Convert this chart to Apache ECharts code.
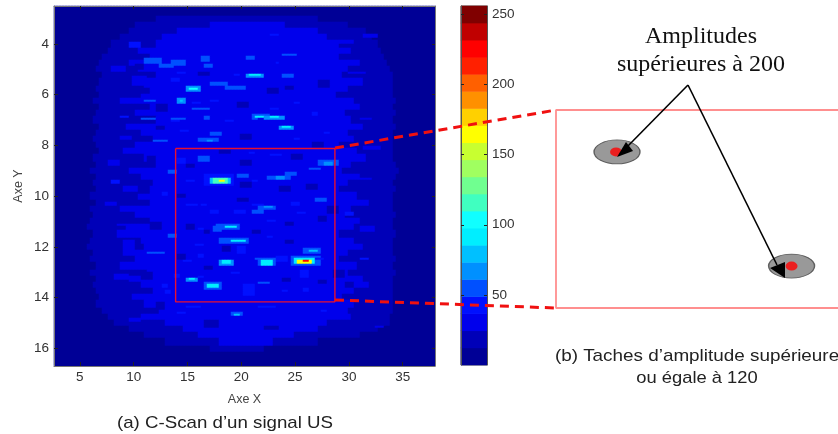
<!DOCTYPE html>
<html><head><meta charset="utf-8">
<style>html,body{margin:0;padding:0;background:#fff}#c{width:838px;height:434px}canvas{filter:blur(0.6px)}</style>
<script src="https://cdn.jsdelivr.net/npm/echarts@6/dist/echarts.min.js"></script>
</head><body><div id="c"></div>
<script>
const xTicks=[5,10,15,20,25,30,35];
const yTicks=[4,6,8,10,12,14,16];
const barTicks=[50,100,150,200,250];
const bandEdges=[0,12,24,36,48,61,73,85,97,110,122,134,146,158,170,183,195,207,219,231,243,256];
const bandColors=['#000096','#0000b8','#0000ec','#0010ff','#0050ff','#0090ff','#00c0ff','#00eeff','#10ffff','#40ffc0','#70ff90','#a0ff60','#c8ff30','#ffff00','#ffd000','#ff9000','#ff6000','#ff2000','#ff0000','#c00000','#800000'];
// background zones read per row, y = 3 .. 16 by 0.25
const midLeft=[12,10,9.5,8.8,8,7.5,7,6.8,6.6,7,6.8,6.4,6.7,6.2,6.9,6.5,6.3,6.7,6.4,6.1,6.4,6.7,6.2,6.6,6,6.4,6.2,6.6,6,6.4,5.9,6.3,6,5.7,6.1,5.9,5.7,6.2,5.9,6.4,6,6.6,6.2,6.4,6.8,6.4,7,7.5,8.2,9.5,11,13,17];
const midRight=[27,30,31.5,32.2,32.6,33,33.3,33.6,33.8,34,34.2,34,34.1,34.4,34.2,34.5,34.2,34.4,34.2,34,34.2,34,34.2,34.4,34.6,34.3,34.2,34.4,34.2,34,34.2,34.3,34.1,34.2,34.4,34.2,34,34.2,34.3,34.2,34.4,34.2,34,34.2,34,34.2,34,33.9,33.7,32.8,31,27,22];
const innerLeft=[20,17,14,12.5,12,10.5,11.5,9.5,10.5,12,9.8,11,10.6,8.8,11.5,10,12,9.4,10.8,11.8,10,8.9,11,12.2,9.5,10.6,11.8,9,10.4,11.6,8.6,10.2,11.4,9.2,8.4,10.6,11,9,10.2,8.8,11.2,9.6,10.8,11.8,9.8,11,12.4,10.6,13,14.5,16,18,20];
const innerRight=[20,24,27,28,29,30.2,29,31,30,29.4,31.2,30,28.8,30.4,31,29.6,30.2,31.4,29.8,30.6,29,30.8,31.6,30.2,29.4,31,30,29.2,30.8,31.8,30.2,29.6,31,30.4,29,30.6,31.4,30,29.2,30.8,30,31.2,29.6,30.4,29.4,30.6,29.8,30.2,28,27,25,23,20];
// amplitude patches [x0,x1,y0,y1,amp], later entries on top
const dimPatches=[[19.9,21,9.45,9.7,14],[19.7,20.7,10.1,10.25,14],[14,14.8,9.95,10.1,14],[23.6,24.5,9.6,9.8,14],[18.2,19,12,12.2,14],[16.4,17.2,11.3,11.5,14],[24,25,11,11.2,14],[27,28,10.8,11,14],[14.9,15.6,11.1,11.3,14],[21.1,21.9,11.35,11.5,14],[24,24.8,11.75,11.9,14],[14,14.8,12.3,12.5,14],[16.5,17.3,12.75,12.95,14],[23.7,24.7,13.2,13.4,14],[27,27.9,13.3,13.5,14],[18,19,8.2,8.35,14],[24.5,25.6,8.35,8.55,14],[19.9,21,8.6,8.8,14],[14.9,15.8,8.7,8.9,14],[26.1,27,9.55,9.75,14],[10.2,11,4.8,5,14],[10.7,11.6,5.7,5.95,14],[16,17,5.1,5.3,14],[22.4,23.5,5.75,5.95,14],[12,13,7.2,7.4,14],[19.5,20.6,6.3,6.5,14],[24,25,5.65,5.85,14],[20,21,7.55,7.75,14],[11.2,12.2,8.4,8.7,14],[10.4,11.4,9.6,9.9,14],[11.6,12.6,11,11.3,14],[10.6,11.8,13,13.3,14],[12.2,13,14.2,14.5,14],[12,13.2,6.4,6.7,14],[28,29.2,10.4,10.7,14],[28.4,29.6,12.9,13.2,14],[27.2,28.2,5.4,5.7,14],[26.6,27.8,7.9,8.1,14],[16.6,17.8,14.9,15.2,14],[22.2,23.6,15.1,15.3,14],
[29.9,31.7,5.08,5.22,32],[31,32.2,6.9,7,28],[31.2,32.6,3.6,3.74,28],[29.2,30.4,3.85,4,32],[25.5,26.6,3.9,4.2,32],[26.5,27.8,3.6,3.8,30],[30.5,32.2,9.3,9.4,30],[32.4,33.2,15.1,15.2,28],[9.8,11.2,5.3,5.6,30],[9.5,10.8,14.8,15,30],[8.4,9.6,11.1,11.2,30],[9,10,11.7,12.2,30],[10,11.4,12.4,12.6,30],[8.2,9.5,13.1,13.3,30],[11,12.3,10.5,10.7,30],[8,9.2,4.9,5.1,30],[7.6,8.8,8.6,8.8,30],[8.6,9.8,7.6,7.8,30],[7.2,8.4,10.2,10.4,30],[31,32.4,11.2,11.4,30],[30.6,32,13.4,13.6,30],[31.4,33,8,8.2,30]];
const upperPatches=[[11,12.7,4.55,4.75,55],[12.3,13.8,4.75,4.92,50],[13.6,14.8,4.6,4.85,48],[16.2,17.1,4.5,4.72,52],[16.4,17.4,4.78,4.95,50],[20.4,21.2,4.45,4.62,50],[23.9,25.1,4.38,4.5,55],[20.4,22.1,5.17,5.34,65],[20.8,21.8,5.21,5.3,90],[23.7,24.9,5.2,5.32,50],[14.9,16.3,5.66,5.86,65],[15.2,15.9,5.7,5.8,105],[17.2,18.8,5.47,5.63,50],[18.6,20.3,5.62,5.78,55],[13.5,14.3,5.34,5.48,45],[13.9,14.9,5.12,5.2,42],[13.9,15,6.15,6.4,62],[14.2,14.7,6.22,6.32,80],[11,12,6.2,6.28,48],[15.5,17.1,6.5,6.6,52],[16.4,17.2,6.86,7,48],[13.4,15,6.88,6.98,48],[10.6,12,6.92,7.02,52],[13.4,14.2,7,7.1,45],[21,22.6,6.75,6.95,58],[21.4,22.3,6.8,6.88,90],[22.2,24,6.84,7,65],[22.6,23.6,6.87,6.95,85],[20.9,21.6,6.88,7.02,50],[23.6,25,7.2,7.36,65],[23.9,24.7,7.23,7.31,85],[16,18,7.7,7.88,58],[16.7,17.5,7.75,7.83,68],[14.4,15.1,7.36,7.48,45],[17,18.2,7.45,7.6,48],[11.7,13.1,7.8,7.9,50],[9.6,10.7,7.76,7.82,45],[15.5,16.2,6.3,6.38,40],[17.2,18,6.2,6.26,40],[18.4,19.2,7.02,7.08,45],[22.6,23.4,6.54,6.6,42],[19.2,20,5.2,5.28,45],[24.8,25.4,6.28,6.38,45],[24.8,25.4,7.74,7.82,45],[23.1,23.4,4.72,4.82,42],[9.5,10.8,3.95,4.12,38],[8.6,9.6,6.8,6.9,42],[22.7,23.4,3.62,3.72,40],[27.6,28.2,7.5,7.58,40],[26.5,27.1,6.68,6.82,42]];
const lowerPatches=[[7.9,8.7,9.38,9.5,42],[16.6,19.4,9.15,9.6,45],[17,19,9.25,9.55,80],[17.5,18.9,9.3,9.5,110],[17.9,18.6,9.36,9.48,165],[24.6,27.3,12.4,12.75,60],[25,26.9,12.45,12.7,90],[25.3,26.6,12.5,12.65,165],[25.7,26.3,12.54,12.62,225],[21.5,23.3,12.45,12.78,60],[21.8,23,12.5,12.72,90],[23.3,24.3,12.36,12.62,45],[18,19.4,12.48,12.72,65],[18.3,19.1,12.55,12.68,90],[25.7,27.5,12.08,12.28,60],[26.2,27,12.12,12.22,75],[16.5,18.2,13.42,13.68,60],[16.9,17.8,13.48,13.6,85],[14.8,16,13.2,13.36,65],[15.1,15.8,13.25,13.32,90],[17.8,20.7,11.65,11.9,48],[19,20.4,11.7,11.82,85],[17.6,19.8,11.1,11.3,60],[18.5,19.5,11.16,11.26,90],[17.5,18.2,11.2,11.45,48],[21.5,23.2,10.35,10.55,50],[22,23,10.38,10.5,62],[22.3,24.5,9.2,9.4,50],[23.1,24.2,9.24,9.36,62],[27.2,29.2,8.6,8.85,55],[27.6,28.5,8.66,8.8,65],[26.3,27.3,8.88,9,52],[24.1,25.2,9.04,9.18,48],[15.9,17,8.42,8.65,48],[14,15,8.5,8.72,45],[13.2,14,8.95,9.1,55],[14.8,15.6,9.38,9.48,45],[19.6,20.3,11.97,12.28,45],[20.3,21.3,13.5,13.95,45],[21.6,22.8,13.38,13.5,50],[25.5,26.3,12.95,13.2,45],[25.6,26.2,13.62,13.8,45],[26.8,27.9,10.1,10.22,48],[24.5,25.5,10.2,10.4,42],[21,22.1,10.58,10.7,50],[19.2,20.4,10.55,10.72,45],[21,22,10.32,10.42,42],[14.9,15.9,10.3,10.4,42],[16.2,16.9,10.3,10.4,42],[17.1,17.9,10.58,10.7,42],[15.9,16.6,11.22,11.33,45],[15.8,16.5,11.85,11.95,42],[16,16.6,12.3,12.42,42],[14.6,15.5,12.55,12.62,40],[15.9,16.6,13.12,13.2,38],[21.4,22.2,12.42,12.52,50],[22.4,23.3,10.97,11.05,42],[19.6,20.6,9.12,9.28,48],[20.9,21.5,9.36,9.42,42],[25.3,26,10.6,10.7,42],[22.8,23.7,8.36,8.44,40],[20.6,21.2,8.26,8.34,40],[13.2,13.9,11.52,11.62,48],[19,20,12.97,13.05,40],[22.3,23,11.55,11.62,40],[26.8,27.6,12.44,12.54,45],[23.7,24.3,13.74,13.8,42],[29.6,30.6,10.6,10.76,42],[30.9,31.8,12.46,12.55,38],[19,20.2,14.58,14.75,60],[19.3,19.9,14.63,14.7,75],[21.6,23.2,14.3,14.42,40],[27.4,28.1,14.5,14.6,38],[22.4,23.1,14.75,14.82,32],[11.3,12.8,12.17,12.28,50],[14,14.8,14.56,14.66,42],[15,16.3,14.34,14.42,38],[12.5,13.2,13.5,13.6,38],[12.8,13.4,13.7,13.85,38],[13.8,14.2,13.1,13.2,40],[12.6,13.3,9.86,9.96,42]];
const zoneX=[13.9,28.7];
const zoneY=[8.12,14.17];
const spotX=[17.18,26.28];
const spotY=[9.43,12.92];
const coreX=[17.13,26.28];
const coreY=[9.43,12.92];

const X0=2.6,X1=38,Y0=2.5,Y1=16.7;
const nCols=127,nRows=180;
const xCats=[],yCats=[],cells=[];
const patches=[...dimPatches,...upperPatches,...lowerPatches];
for(let c=0;c<nCols;c++)xCats.push(String(c));
for(let r=0;r<nRows;r++)yCats.push(String(r));
for(let r=0;r<nRows;r++){
  const y=Y0+(r+.5)*(Y1-Y0)/nRows;
  const mi=Math.round((y-3)/0.25);
  for(let c=0;c<nCols;c++){
    const x=X0+(c+.5)*(X1-X0)/nCols;
    let v=6;
    if(mi>=0&&mi<midLeft.length){
      if(x>=midLeft[mi]&&x<=midRight[mi])v=18;
      if(x>=innerLeft[mi]&&x<=innerRight[mi])v=30;
    }
    for(const p of patches){if(x>=p[0]&&x<=p[1]&&y>=p[2]&&y<=p[3])v=p[4];}
    cells.push([c,r,v]);
  }
}
const barCats=bandColors.map((_,i)=>String(i));
const barCells=bandColors.map((_,i)=>[0,i,(bandEdges[i]+bandEdges[i+1])/2]);
const pieces=bandColors.map((col,i)=>({gte:bandEdges[i],lt:bandEdges[i+1],color:col}));
const tickTxt={color:'#333',fontFamily:'Liberation Sans',fontSize:13.5};
const frame={show:true,lineStyle:{color:'#777',width:1}};
const tick=(vals,len)=>({show:true,inside:true,length:len,customValues:vals,lineStyle:{color:'#222',width:1}});
const nameTxt={fontFamily:'Liberation Sans',fontSize:12.5,color:'#444'};

const chart=echarts.init(document.getElementById('c'));
chart.setOption({
 animation:false,backgroundColor:'#fff',
 grid:[{left:54,top:6,width:381,height:360},{left:461,top:6,width:26,height:359,show:true,borderColor:'#555',borderWidth:1},{left:556,top:110,width:282,height:198}],
 visualMap:{type:'piecewise',show:false,dimension:2,seriesIndex:[0,1],pieces:pieces},
 xAxis:[
  {gridIndex:0,type:'value',min:X0,max:X1,position:'bottom',z:5,axisLine:frame,axisTick:tick(xTicks,4),splitLine:{show:false},axisLabel:Object.assign({customValues:xTicks,margin:4},tickTxt),name:'Axe X',nameLocation:'middle',nameGap:27,nameTextStyle:nameTxt},
  {gridIndex:0,type:'value',min:X0,max:X1,position:'top',z:5,axisLine:frame,axisTick:tick(xTicks,3),axisLabel:{show:false},splitLine:{show:false}},
  {gridIndex:0,type:'category',data:xCats,show:false},
  {gridIndex:1,type:'category',data:['c'],show:false},
  {gridIndex:2,type:'value',min:zoneX[0]+0.1,max:zoneX[1],show:false}
 ],
 yAxis:[
  {gridIndex:0,type:'value',min:Y0,max:Y1,inverse:true,position:'left',z:5,axisLine:frame,axisTick:tick(yTicks,4),splitLine:{show:false},axisLabel:Object.assign({customValues:yTicks,margin:5},tickTxt),name:'Axe Y',nameLocation:'middle',nameGap:29,nameRotate:90,nameTextStyle:nameTxt},
  {gridIndex:0,type:'value',min:Y0,max:Y1,inverse:true,position:'right',z:5,axisLine:frame,axisTick:tick(yTicks,3),axisLabel:{show:false},splitLine:{show:false}},
  {gridIndex:0,type:'category',data:yCats,inverse:true,show:false},
  {gridIndex:1,type:'category',data:barCats,show:false},
  {gridIndex:1,type:'value',min:0,max:256,position:'right',z:5,axisLine:{show:true,lineStyle:{color:'#555'}},axisTick:tick(barTicks,3),splitLine:{show:false},axisLabel:Object.assign({customValues:barTicks,margin:5},tickTxt)},
  {gridIndex:1,type:'value',min:0,max:256,position:'left',z:5,axisLine:{show:true,lineStyle:{color:'#555'}},axisTick:tick(barTicks,3),axisLabel:{show:false},splitLine:{show:false}},
  {gridIndex:2,type:'value',min:zoneY[0]+0.03,max:zoneY[1]+0.03,inverse:true,show:false}
 ],
 series:[
  {type:'heatmap',xAxisIndex:2,yAxisIndex:2,data:cells,progressive:0,z:2},
  {type:'heatmap',xAxisIndex:3,yAxisIndex:3,data:barCells,progressive:0,z:2},
  {type:'line',xAxisIndex:0,yAxisIndex:0,symbol:'none',z:4,lineStyle:{color:'#e81030',width:1.4},
   data:[[zoneX[0],zoneY[0]],[zoneX[1],zoneY[0]],[zoneX[1],zoneY[1]],[zoneX[0],zoneY[1]],[zoneX[0],zoneY[0]]]},
  {type:'line',xAxisIndex:4,yAxisIndex:6,symbol:'none',z:3,clip:false,lineStyle:{color:'#ff8f8f',width:1.8},
   data:[[zoneX[1],zoneY[0]+0.03],[zoneX[0]+0.1,zoneY[0]+0.03],[zoneX[0]+0.1,zoneY[1]+0.03],[zoneX[1],zoneY[1]+0.03]]},
  {type:'scatter',xAxisIndex:4,yAxisIndex:6,symbol:'circle',symbolSize:[46,24],z:4,itemStyle:{color:'#808080',borderColor:'#444',borderWidth:1},
   data:spotX.map((x,i)=>[x,spotY[i]])},
  {type:'scatter',xAxisIndex:4,yAxisIndex:6,symbol:'circle',symbolSize:[12,9],z:5,itemStyle:{color:'#ff0000'},
   data:coreX.map((x,i)=>[x,coreY[i]])}
 ],
 graphic:[
  {type:'line',z:20,shape:{x1:335,y1:148,x2:556,y2:110},style:{stroke:'#f01010',lineWidth:3,lineDash:[9,6]}},
  {type:'line',z:20,shape:{x1:335,y1:300,x2:556,y2:308},style:{stroke:'#f01010',lineWidth:3,lineDash:[9,6]}},
  {type:'line',z:21,shape:{x1:688,y1:85,x2:624,y2:150},style:{stroke:'#000',lineWidth:1.6}},
  {type:'polygon',z:21,shape:{points:[[617,157],[626,142],[633,151]]},style:{fill:'#000'}},
  {type:'line',z:21,shape:{x1:688,y1:85,x2:777,y2:265},style:{stroke:'#000',lineWidth:1.6}},
  {type:'polygon',z:21,shape:{points:[[785,278],[770,268],[785,262]]},style:{fill:'#000'}},
  {type:'text',z:21,x:701,y:37,style:{text:'Amplitudes',textAlign:'center',textVerticalAlign:'middle',font:'24px "Liberation Serif"',fill:'#111'}},
  {type:'text',z:21,x:701,y:65,style:{text:'supérieures à 200',textAlign:'center',textVerticalAlign:'middle',font:'24px "Liberation Serif"',fill:'#111'}},
  {type:'text',z:21,x:225,y:423,scaleX:1.1,style:{text:'(a) C-Scan d’un signal US',textAlign:'center',textVerticalAlign:'middle',font:'17px "Liberation Sans"',fill:'#222'}},
  {type:'text',z:21,x:697,y:356,scaleX:1.11,style:{text:'(b) Taches d’amplitude supérieure',textAlign:'center',textVerticalAlign:'middle',font:'17px "Liberation Sans"',fill:'#222'}},
  {type:'text',z:21,x:697,y:378,scaleX:1.08,style:{text:'ou égale à 120',textAlign:'center',textVerticalAlign:'middle',font:'17px "Liberation Sans"',fill:'#222'}}
 ]
});
</script></body></html>
